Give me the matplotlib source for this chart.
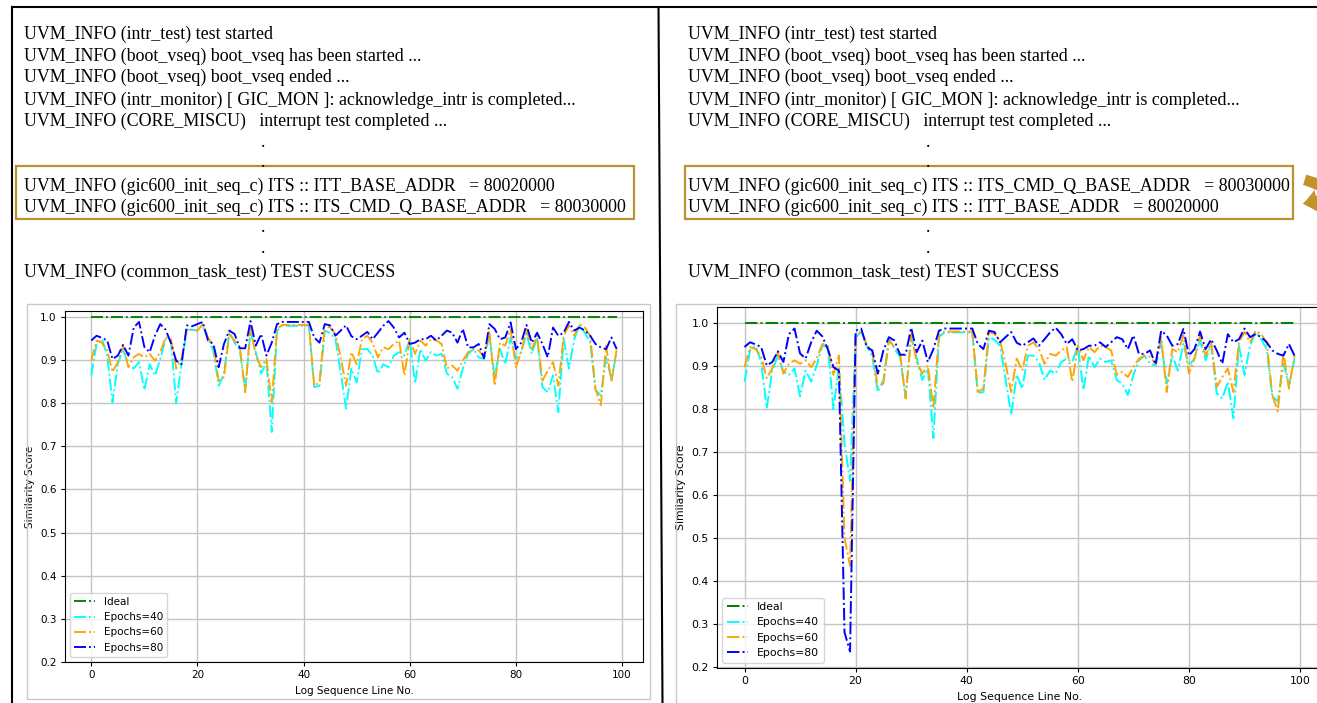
import numpy as np
import matplotlib.pyplot as plt
from matplotlib.patches import Rectangle, FancyArrowPatch
from matplotlib.lines import Line2D
from matplotlib.transforms import Affine2D

# Лог-сообщения (левая и правая панели)
log_top = [
    "UVM_INFO (intr_test) test started",
    "UVM_INFO (boot_vseq) boot_vseq has been started ...",
    "UVM_INFO (boot_vseq) boot_vseq ended ...",
    "UVM_INFO (intr_monitor) [ GIC_MON ]: acknowledge_intr is completed...",
    "UVM_INFO (CORE_MISCU)   interrupt test completed ...",
]
box_left = [
    "UVM_INFO (gic600_init_seq_c) ITS :: ITT_BASE_ADDR   = 80020000",
    "UVM_INFO (gic600_init_seq_c) ITS :: ITS_CMD_Q_BASE_ADDR   = 80030000",
]
box_right = [
    "UVM_INFO (gic600_init_seq_c) ITS :: ITS_CMD_Q_BASE_ADDR   = 80030000",
    "UVM_INFO (gic600_init_seq_c) ITS :: ITT_BASE_ADDR   = 80020000",
]
log_last = "UVM_INFO (common_task_test) TEST SUCCESS"

# Данные графиков
line_no = np.arange(100)
ideal = np.ones(100)

e80_left = np.array([
    0.945, 0.956, 0.951, 0.945, 0.902, 0.910, 0.935, 0.910, 0.975, 0.988,
    0.930, 0.918, 0.956, 0.983, 0.970, 0.940, 0.898, 0.890, 0.980, 0.978,
    0.983, 0.988, 0.945, 0.937, 0.883, 0.937, 0.968, 0.960, 0.927, 0.927,
    0.990, 0.933, 0.960, 0.910, 0.940, 0.983, 0.988, 0.988, 0.988, 0.988,
    0.988, 0.988, 0.952, 0.940, 0.983, 0.980, 0.956, 0.968, 0.980, 0.955,
    0.948, 0.956, 0.965, 0.948, 0.963, 0.979, 0.990, 0.975, 0.952, 0.963,
    0.937, 0.940, 0.948, 0.948, 0.956, 0.945, 0.956, 0.968, 0.963, 0.940,
    0.972, 0.929, 0.929, 0.937, 0.904, 0.983, 0.972, 0.948, 0.952, 0.987,
    0.925, 0.940, 0.981, 0.940, 0.963, 0.937, 0.906, 0.975, 0.956, 0.963,
    0.988, 0.968, 0.975, 0.968, 0.956, 0.937, 0.929, 0.925, 0.952, 0.925])

e60_left = np.array([
    0.898, 0.945, 0.940, 0.922, 0.872, 0.895, 0.933, 0.883, 0.906, 0.914,
    0.906, 0.914, 0.898, 0.918, 0.952, 0.948, 0.880, 0.902, 0.970, 0.970,
    0.968, 0.983, 0.952, 0.933, 0.852, 0.860, 0.960, 0.945, 0.930, 0.825,
    0.975, 0.910, 0.883, 0.902, 0.802, 0.972, 0.981, 0.981, 0.981, 0.981,
    0.981, 0.981, 0.840, 0.848, 0.980, 0.975, 0.960, 0.905, 0.840, 0.918,
    0.890, 0.948, 0.956, 0.940, 0.906, 0.929, 0.925, 0.937, 0.945, 0.864,
    0.948, 0.914, 0.945, 0.933, 0.948, 0.945, 0.937, 0.880, 0.887, 0.875,
    0.898, 0.918, 0.925, 0.922, 0.906, 0.968, 0.840, 0.940, 0.933, 0.972,
    0.883, 0.918, 0.972, 0.925, 0.956, 0.852, 0.875, 0.895, 0.840, 0.956,
    0.980, 0.956, 0.983, 0.975, 0.956, 0.833, 0.795, 0.933, 0.848, 0.925])

e40_left = np.array([
    0.864, 0.937, 0.948, 0.910, 0.802, 0.890, 0.925, 0.887, 0.880, 0.895,
    0.830, 0.890, 0.864, 0.902, 0.948, 0.945, 0.800, 0.890, 0.970, 0.970,
    0.968, 0.980, 0.948, 0.922, 0.840, 0.868, 0.965, 0.940, 0.922, 0.830,
    0.968, 0.918, 0.868, 0.895, 0.733, 0.968, 0.979, 0.979, 0.979, 0.979,
    0.979, 0.979, 0.837, 0.840, 0.968, 0.962, 0.948, 0.870, 0.787, 0.880,
    0.848, 0.925, 0.925, 0.910, 0.868, 0.890, 0.883, 0.910, 0.918, 0.910,
    0.948, 0.845, 0.925, 0.898, 0.918, 0.910, 0.914, 0.868, 0.860, 0.833,
    0.880, 0.914, 0.925, 0.906, 0.902, 0.956, 0.860, 0.925, 0.890, 0.952,
    0.902, 0.918, 0.960, 0.914, 0.952, 0.837, 0.825, 0.864, 0.779, 0.948,
    0.880, 0.948, 0.980, 0.963, 0.940, 0.830, 0.818, 0.906, 0.856, 0.918])

# Правый график: тот же прогон, но с провалом на строках 18-19
e80_right = e80_left.copy()
e80_right[18:20] = [0.280, 0.235]
e60_right = e60_left.copy()
e60_right[17:20] = [0.925, 0.500, 0.435]
e40_right = e40_left.copy()
e40_right[17:20] = [0.900, 0.720, 0.633]

W, H = 1317, 703
fig = plt.figure(figsize=(W / 100, H / 100), dpi=100)
pix = Affine2D().scale(1 / W, -1 / H).translate(0, 1) + fig.transFigure


def line(x0, y0, x1, y1, **kw):
    fig.add_artist(Line2D([x0, x1], [y0, y1], transform=pix, **kw))


def px_rect(x0, y0, x1, y1):
    return [x0 / W, 1 - y1 / H, (x1 - x0) / W, (y1 - y0) / H]


# Рамки панелей
line(11.5, 7, 1317, 7, color='black', lw=1.5)
line(11.5, 7, 11.5, 703, color='black', lw=1.5)
line(658.5, 7, 662.5, 703, color='black', lw=1.5)

gold = '#B8922E'
serif = dict(family='Liberation Serif', fontsize=12.85, color='black',
             va='baseline', transform=pix)


def draw_log(x0, dot_x, box_lines, box_x0, box_x1):
    for s, yb in zip(log_top, [38.5, 61, 82, 104.5, 125.5]):
        fig.text(x0, yb, s, **serif)
    for yb in [147, 167, 232, 253]:
        fig.text(dot_x, yb, ".", **serif)
    for s, yb in zip(box_lines, [190.5, 212]):
        fig.text(x0, yb, s, **serif)
    fig.text(x0, 276.5, log_last, **serif)
    fig.add_artist(Rectangle((box_x0, 166), box_x1 - box_x0, 53, fill=False,
                             edgecolor=gold, lw=1.6, transform=pix))


draw_log(24, 261, box_left, 16, 634)
draw_log(688, 926, box_right, 685, 1293)

# Стрелка справа (обрезана краем)
fig.add_artist(FancyArrowPatch((1302, 179), (1300, 204), transform=pix,
                               connectionstyle='arc3,rad=-2.4',
                               arrowstyle='simple,head_length=0.8,head_width=1.3,tail_width=0.6',
                               mutation_scale=13, color='#C4922A', lw=0))

# Светлые рамки вокруг графиков
fig.add_artist(Rectangle((27, 304), 623, 395, fill=False, edgecolor='#c8c8c8',
                         lw=1, transform=pix))
fig.add_artist(Rectangle((676, 304), 700, 420, fill=False, edgecolor='#c8c8c8',
                         lw=1, transform=pix))


def draw_chart(rect, e40, e60, e80, fs, lw, ybottom=None):
    ax = fig.add_axes(rect)
    ax.plot(line_no, ideal, '-.', color='green', lw=lw, label='Ideal')
    ax.plot(line_no, e40, '-.', color='cyan', lw=lw, label='Epochs=40')
    ax.plot(line_no, e60, '-.', color='orange', lw=lw, label='Epochs=60')
    ax.plot(line_no, e80, '-.', color='blue', lw=lw, label='Epochs=80')
    if ybottom is not None:
        ax.set_ylim(bottom=ybottom)
    ax.set_yticks(np.arange(0.2, 1.01, 0.1))
    ax.set_xticks([0, 20, 40, 60, 80, 100])
    ax.grid(True, color='#c4c4c4', lw=1.0)
    ax.tick_params(labelsize=fs, length=3, pad=3)
    ax.set_xlabel('Log Sequence Line No.', fontsize=fs)
    ax.set_ylabel('Similarity Score', fontsize=fs)
    ax.legend(loc='lower left', fontsize=fs)
    return ax


draw_chart(px_rect(65, 311, 643, 662), e40_left, e60_left, e80_left, 7.5, 1.35, ybottom=0.2)
draw_chart(px_rect(717, 307, 1322, 668), e40_right, e60_right, e80_right, 7.8, 1.4)

fig.savefig('out.png', dpi=100)
